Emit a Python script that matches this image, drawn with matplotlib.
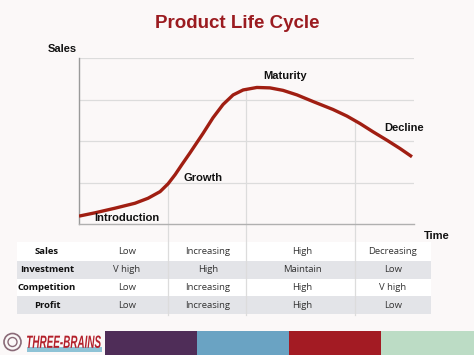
import numpy as np
import matplotlib
matplotlib.use("Agg")
import matplotlib.pyplot as plt
from matplotlib.patches import Rectangle, Circle, PathPatch
from matplotlib.textpath import TextPath
from matplotlib.font_manager import FontProperties
from matplotlib.transforms import Affine2D

# curve (time 0..10, sales 0..4)
time = [0, 0.48, 1.07, 1.67, 2.06, 2.42, 2.66, 2.87, 3.07, 3.31, 3.70, 4.00,
        4.30, 4.60, 4.90, 5.31, 5.70, 6.09, 6.51, 6.99, 7.58, 8.00, 8.39,
        8.78, 9.19, 9.58, 9.94]
sales = [0.19, 0.27, 0.38, 0.50, 0.62, 0.78, 0.97, 1.19, 1.43, 1.71, 2.18, 2.56,
         2.88, 3.11, 3.23, 3.29, 3.28, 3.22, 3.11, 2.95, 2.76, 2.60, 2.42,
         2.22, 2.02, 1.82, 1.62]
stage_bounds = [2.66, 4.99, 8.24]

row_labels = ["Sales", "Investment", "Competition", "Profit"]
table_rows = [
    ["Low", "Increasing", "High", "Decreasing"],
    ["V high", "High", "Maintain", "Low"],
    ["Low", "Increasing", "High", "V high"],
    ["Low", "Increasing", "High", "Low"],
]
band_colors = ["#4f2d58", "#6aa3c3", "#a31b23", "#bcdcc5"]

W, H = 474, 355
bg = "#fbf8f8"
fig = plt.figure(figsize=(W / 100, H / 100), dpi=100, facecolor=bg)

# overlay in pixel coords for the decorations
deco = fig.add_axes([0, 0, 1, 1], zorder=0)
deco.set_xlim(0, W)
deco.set_ylim(H, 0)
deco.axis("off")

# main chart
x0, x1, ytop, ybot = 79, 414, 58, 224
ax = fig.add_axes([x0 / W, (H - ybot) / H, (x1 - x0) / W, (ybot - ytop) / H], zorder=2)
ax.patch.set_alpha(0)
ax.set_xlim(0, 10)
ax.set_ylim(0, 4)
for y in [1, 2, 3, 4]:
    ax.axhline(y, color="#dcdcdc", lw=0.9, zorder=1)
for s in ["top", "right"]:
    ax.spines[s].set_visible(False)
ax.spines["left"].set_color("#9a9a9a")
ax.spines["bottom"].set_color("#b0b0b0")
ax.spines["left"].set_linewidth(1.0)
ax.spines["bottom"].set_linewidth(1.0)
ax.set_xticks([])
ax.set_yticks([])

# stage lines from the curve down through the table
y_table_bottom = -(315 - ybot) / (ybot - ytop) * 4
for b in stage_bounds:
    ytop_b = np.interp(b, time, sales)
    ax.plot([b, b], [ytop_b, y_table_bottom], color="#dcdcdc", lw=0.9,
            clip_on=False, zorder=1)

ax.plot(time, sales, color="#a01e12", lw=2.4, solid_joinstyle="round",
        solid_capstyle="butt", zorder=3)

lab = dict(fontsize=8, fontweight="bold", color="#111111", family="Liberation Sans")
ax.text(1.43, 0.15, "Introduction", ha="center", va="center", **lab)
ax.text(3.7, 1.11, "Growth", ha="center", va="center", **lab)
ax.text(6.15, 3.57, "Maturity", ha="center", va="center", **lab)
ax.text(9.7, 2.31, "Decline", ha="center", va="center", **lab)

deco.text(237, 24, "Product Life Cycle", ha="center", va="center", fontsize=13.5,
          fontweight="heavy", color="#9b1b20", family="Liberation Sans")
deco.text(62, 49, "Sales", ha="center", va="center", **lab)
deco.text(437, 236, "Time", ha="center", va="center", **lab)

# table
tl, tr = 17, 431
row_top = [242, 261, 279, 296]
row_h = [19, 18, 17, 18]
col_centers = [47, 127, 208, 302, 393]
for i in range(4):
    fc = "#ffffff" if i % 2 == 0 else "#e3e4e8"
    deco.add_patch(Rectangle((tl, row_top[i]), tr - tl, row_h[i], fc=fc, ec="none", zorder=0))
    yc = row_top[i] + row_h[i] / 2
    deco.text(col_centers[0], yc, row_labels[i], ha="center", va="center", fontsize=6.8,
              fontweight="bold", color="#111111", family="Open Sans")
    for j, v in enumerate(table_rows[i]):
        deco.text(col_centers[j + 1], yc, v, ha="center", va="center", fontsize=6.8,
                  color="#333333", family="Open Sans")

# footer band
edges = [105, 197, 289, 381, 474]
for k, c in enumerate(band_colors):
    deco.add_patch(Rectangle((edges[k], 331), edges[k + 1] - edges[k], H - 331, fc=c, ec="none"))
deco.add_patch(Rectangle((27, 347), 75, 5, fc="#8ec3d6", ec="none"))

# logo word, squeezed into the box the original uses
tp = TextPath((0, 0), "THREE-BRAINS", size=10,
              prop=FontProperties(family="Liberation Sans", weight="bold", style="italic"))
ext = tp.get_extents()
sx = 74 / ext.width
sy = 12.5 / ext.height
tr_logo = Affine2D().translate(-ext.x0, -ext.y0).scale(sx, -sy).translate(27, 348) + deco.transData
deco.add_patch(PathPatch(tp, fc="#b3202b", ec="none", transform=tr_logo))
deco.add_patch(Circle((12.5, 342), 8.5, fc="none", ec="#8a6a78", lw=1.2))
deco.add_patch(Circle((12.5, 342), 4.5, fc="none", ec="#8a6a78", lw=1.0))

fig.savefig("out.png", dpi=100, facecolor=bg)
